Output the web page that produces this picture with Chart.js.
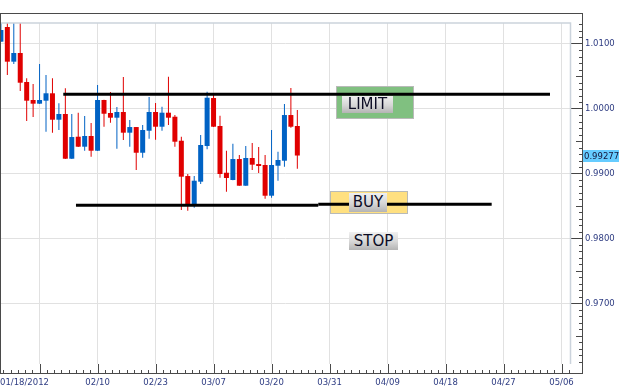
<!DOCTYPE html>
<html>
<head>
<meta charset="utf-8">
<script src="https://cdn.jsdelivr.net/npm/chart.js@4.4.1/dist/chart.umd.min.js"></script>
<style>
  html, body { margin: 0; padding: 0; background: #fff; }
  #wrap { position: relative; width: 624px; height: 392px; overflow: hidden; }
  #chart { position: absolute; left: 0; top: 0; }
  .tag {
    position: absolute; box-sizing: border-box; text-align: center;
    font-family: "DejaVu Sans", sans-serif; font-size: 15px; color: #0c0c24;
    background: linear-gradient(to bottom, #f0f0f0 0%, #d6d6d6 55%, #b4b4b4 100%);
  }
  #price {
    position: absolute; left: 583px; top: 150px; width: 36px; height: 12px;
    background: #66ccff; font: 8.5px "DejaVu Sans", sans-serif; line-height: 12px;
    color: #141438; padding-left: 1px; box-sizing: border-box;
  }
</style>
</head>
<body>
<div id="wrap">
  <canvas id="chart" width="624" height="392"></canvas>
  <div class="tag" style="left:342px;top:96px;width:51px;height:17px;line-height:17px;">LIMIT</div>
  <div class="tag" style="left:349px;top:193px;width:38px;height:19px;line-height:19px;">BUY</div>
  <div class="tag" style="left:349px;top:232px;width:49px;height:18px;line-height:18px;">STOP</div>
  <div id="price">0.99277</div>
</div>
<script>
const UP = "#0062c4";
const DOWN = "#e00000";

// daily candles, oldest first
const opens = [
  1.01031, 1.01257, 1.00723, 1.00857, 1.00410, 1.00133, 1.00076, 1.00122, 1.00236, 0.99829,
  0.99917, 0.99228, 0.99567, 0.99413, 0.99578, 0.99351, 1.00133, 0.99932, 0.99860, 0.99948,
  0.99629, 0.99716, 0.99320, 0.99659, 0.99948, 0.99721, 0.99937, 0.99875, 0.99505, 0.98961,
  0.98519, 0.98874, 0.99424, 1.00163, 0.99732, 0.99012, 0.98900, 0.99223, 0.98812, 0.99239,
  0.99146, 0.99131, 0.98658, 0.99120, 0.99197, 0.99901, 0.99732
];
const highs = [
  1.01400, 1.01400, 1.01380, 1.01350, 1.00467, 1.00379, 1.00687, 1.00518, 1.00467, 1.00082,
  1.00313, 0.99917, 0.99937, 0.99886, 0.99778, 1.00364, 1.00135, 1.00256, 1.00025, 1.00487,
  0.99824, 0.99718, 0.99747, 1.00179, 1.00086, 1.00029, 1.00492, 0.99901, 0.99567, 0.98992,
  0.98961, 0.99593, 1.00260, 1.00210, 0.99891, 0.99351, 0.99459, 0.99285, 0.99424, 0.99470,
  0.99408, 0.99285, 0.99670, 0.99336, 1.00071, 1.00317, 0.99978
];
const lows = [
  1.01026, 1.00518, 1.00687, 1.00271, 0.99809, 0.99871, 1.00071, 0.99644, 0.99629, 0.99670,
  0.99225, 0.99225, 0.99408, 0.99351, 0.99259, 0.99348, 0.99721, 0.99783, 0.99382, 0.99516,
  0.99413, 0.99054, 0.99243, 0.99536, 0.99521, 0.99659, 0.99747, 0.99413, 0.98438, 0.98427,
  0.98473, 0.98838, 0.99373, 0.99718, 0.98935, 0.98720, 0.98898, 0.98810, 0.98810, 0.99054,
  0.99008, 0.98612, 0.98627, 0.98889, 0.99105, 0.99706, 0.99074
];
const closes = [
  1.01211, 1.00723, 1.00857, 1.00399, 1.00122, 1.00076, 1.00133, 1.00236, 0.99829, 0.99917,
  0.99228, 0.99562, 0.99413, 0.99578, 0.99351, 1.00133, 0.99921, 0.99860, 0.99948, 0.99629,
  0.99716, 0.99320, 0.99670, 0.99948, 0.99721, 0.99937, 0.99860, 0.99490, 0.98951, 0.98525,
  0.98889, 0.99439, 1.00168, 0.99721, 0.98992, 0.98931, 0.99223, 0.98812, 0.99239, 0.99136,
  0.99116, 0.98658, 0.99131, 0.99208, 0.99901, 0.99721, 0.99277
];

// x axis: bar slots, ticks every 9 slots
const xTickAt = [6, 15, 24, 33, 42, 51, 60, 69, 78, 87];
const xTickLabels = ["", "02/10", "02/23", "03/07", "03/20", "03/31", "04/09", "04/18", "04/27", "05/06"];
const firstDate = "01/18/2012";
const yTickAt = [0.97, 0.98, 0.99, 1.00, 1.01];

// trade levels: [level, from slot, to slot]
const limitLine = [[1.00220, 9.68, 85.21]];
const buyLine = [[0.98510, 11.65, 49.25], [0.98527, 49.25, 76.16]];
// shaded zones behind the labels: [from slot, to slot, top, bottom, colour]
const zones = [
  [52.0, 63.95, 1.00348, 0.99851, "#80c080"],
  [51.07, 62.97, 0.98726, 0.98396, "#ffe080"]
];

const X_MIN = -0.14, X_MAX = 88.47;
const Y_MIN = 0.96065, Y_MAX = 1.01319;

const slots = opens.map((_, i) => i);
const colorOf = (c) => (closes[c.dataIndex] >= opens[c.dataIndex] ? UP : DOWN);

const levelSets = (rows) =>
  rows.map(([lv, a, b]) => ({
    type: "line",
    data: [{ x: a, y: lv }, { x: b, y: lv }],
    borderColor: "#000",
    borderWidth: 3,
    pointRadius: 0,
    order: 1,
  }));

const frame = {
  id: "frame",
  beforeDatasetsDraw(chart) {
    const { ctx, scales: { x, y } } = chart;
    ctx.save();
    zones.forEach(([a, b, t, btm, fill]) => {
      const l = Math.round(x.getPixelForValue(a)) + 0.5;
      const r = Math.round(x.getPixelForValue(b)) + 0.5;
      const tp = Math.round(y.getPixelForValue(t)) + 0.5;
      const bp = Math.round(y.getPixelForValue(btm)) + 0.5;
      ctx.fillStyle = fill;
      ctx.fillRect(l, tp, r - l, bp - tp);
      ctx.strokeStyle = "#b8bab8";
      ctx.lineWidth = 1;
      ctx.strokeRect(l, tp, r - l, bp - tp);
    });
    ctx.restore();
  },
  afterDraw(chart) {
    const { ctx, chartArea: a, scales: { x, y } } = chart;
    const axX = a.right + 11.5;
    const axY = a.bottom + 9.5;
    ctx.save();
    ctx.lineWidth = 1;

    // light inner border
    ctx.strokeStyle = "#cbd3dc";
    ctx.lineWidth = 1.5;
    ctx.beginPath();
    ctx.moveTo(a.left, a.top);
    ctx.lineTo(a.right - 0.5, a.top);
    ctx.lineTo(a.right - 0.5, a.bottom);
    ctx.stroke();

    // dark frame
    ctx.lineWidth = 1;
    ctx.strokeStyle = "#4a4a4a";
    ctx.strokeRect(0.5, a.top - 9.5, axX - 0.5, axY - (a.top - 9.5));

    // x ticks
    ctx.beginPath();
    xTickAt.forEach((v) => {
      const px = Math.round(x.getPixelForValue(v)) + 0.5;
      ctx.moveTo(px, a.bottom);
      ctx.lineTo(px, axY);
    });
    const step = 9 / 8;
    for (let k = -5; xTickAt[0] + k * step < X_MAX; k++) {
      if (k % 8 === 0) continue;
      const v = xTickAt[0] + k * step;
      if (v < X_MIN) continue;
      const px = Math.round(x.getPixelForValue(v)) + 0.5;
      ctx.moveTo(px, axY - 3.5);
      ctx.lineTo(px, axY);
    }
    // y minor ticks
    for (let k = 961; k <= 1013; k++) {
      if (k % 10 === 0) continue;
      const py = Math.round(y.getPixelForValue(k / 1000)) + 0.5;
      const len = k % 5 === 0 ? 6.5 : 3.5;
      ctx.moveTo(axX - len, py);
      ctx.lineTo(axX, py);
    }
    ctx.stroke();
    ctx.restore();
  },
};

const tickFont = { family: "DejaVu Sans", size: 8.5 };
const tickColor = "#2e3c82";

new Chart(document.getElementById("chart"), {
  type: "bar",
  data: {
    datasets: [
      {
        data: slots.map((i) => ({ x: i, y: [lows[i], highs[i]] })),
        backgroundColor: colorOf,
        barThickness: 1,
        grouped: false,
        inflateAmount: 0,
        clip: 0,
        order: 3,
      },
      {
        data: slots.map((i) => ({ x: i, y: [opens[i], closes[i]] })),
        backgroundColor: colorOf,
        barThickness: 5,
        grouped: false,
        inflateAmount: 0,
        clip: 0,
        order: 2,
      },
      ...levelSets(limitLine),
      ...levelSets(buyLine),
    ],
  },
  plugins: [frame],
  options: {
    responsive: false,
    animation: false,
    events: [],
    layout: { padding: { top: 23, left: 0, right: 0, bottom: 0 } },
    plugins: { legend: { display: false }, tooltip: { enabled: false } },
    scales: {
      x: {
        type: "linear",
        min: X_MIN,
        max: X_MAX,
        bounds: "data",
        offset: false,
        afterBuildTicks: (s) => {
          s.ticks = [{ value: X_MIN }, ...xTickAt.map((v) => ({ value: v })), { value: X_MAX }];
        },
        afterFit: (s) => { s.height = 28; },
        grid: {
          offset: false,
          color: (c) => (c.tick && xTickAt.includes(c.tick.value) ? "#e1e1e1" : "rgba(0,0,0,0)"),
          tickLength: 14,
          tickColor: "rgba(0,0,0,0)",
        },
        border: { display: false },
        ticks: {
          align: "inner",
          padding: 0,
          autoSkip: false,
          maxRotation: 0,
          font: tickFont,
          color: tickColor,
          callback: (v, i) => (i === 0 ? firstDate : i <= xTickAt.length ? xTickLabels[i - 1] : ""),
        },
      },
      y: {
        type: "linear",
        position: "right",
        min: Y_MIN,
        max: Y_MAX,
        bounds: "data",
        afterBuildTicks: (s) => {
          s.ticks = yTickAt.map((v) => ({ value: v }));
        },
        afterFit: (s) => { s.width = 53; },
        grid: { color: "#e1e1e1", tickLength: 11, tickColor: "#444" },
        border: { display: false },
        ticks: {
          padding: 3,
          font: tickFont,
          color: tickColor,
          callback: (v) => v.toFixed(4),
        },
      },
    },
  },
});
</script>
</body>
</html>
